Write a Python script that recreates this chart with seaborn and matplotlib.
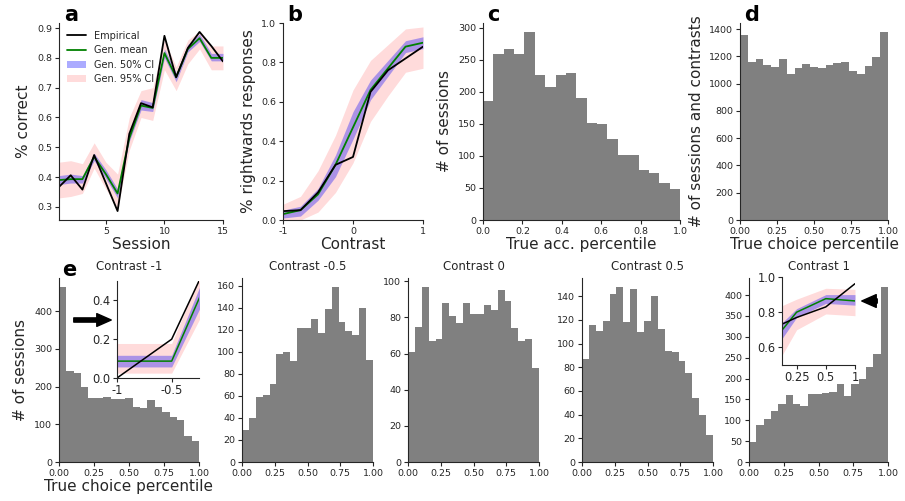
import numpy as np
import pandas as pd
import matplotlib
matplotlib.use("Agg")
import matplotlib.pyplot as plt
import seaborn as sns

# ---------------- data ----------------
# Panel a: accuracy per session
sessions = list(range(1, 16))
acc_emp = [0.367, 0.406, 0.358, 0.474, 0.38, 0.286, 0.545, 0.648, 0.634, 0.874, 0.735, 0.833, 0.887, 0.84, 0.788]
acc_mean = [0.39, 0.393, 0.393, 0.468, 0.41, 0.345, 0.53, 0.64, 0.632, 0.816, 0.735, 0.83, 0.866, 0.80, 0.80]
acc_50_lo = [0.375, 0.38, 0.38, 0.455, 0.395, 0.33, 0.52, 0.625, 0.62, 0.80, 0.72, 0.82, 0.855, 0.79, 0.79]
acc_50_hi = [0.405, 0.41, 0.405, 0.48, 0.425, 0.36, 0.545, 0.66, 0.65, 0.83, 0.75, 0.845, 0.88, 0.815, 0.815]
acc_95_lo = [0.33, 0.335, 0.345, 0.43, 0.36, 0.295, 0.49, 0.60, 0.59, 0.76, 0.69, 0.78, 0.83, 0.76, 0.76]
acc_95_hi = [0.45, 0.455, 0.445, 0.515, 0.45, 0.41, 0.60, 0.69, 0.70, 0.86, 0.77, 0.86, 0.89, 0.84, 0.84]

# Panel b: psychometric curve
contrasts = [-1, -0.75, -0.5, -0.25, 0, 0.25, 0.5, 0.75, 1]
pr_emp = [0.045, 0.05, 0.14, 0.28, 0.32, 0.65, 0.76, 0.82, 0.88]
pr_mean = [0.03, 0.05, 0.13, 0.28, 0.47, 0.66, 0.77, 0.88, 0.90]
pr_50_lo = [0.01, 0.02, 0.10, 0.22, 0.41, 0.61, 0.73, 0.85, 0.87]
pr_50_hi = [0.05, 0.07, 0.16, 0.33, 0.55, 0.71, 0.81, 0.91, 0.93]
pr_95_lo = [0.0, 0.0, 0.04, 0.14, 0.29, 0.50, 0.63, 0.75, 0.77]
pr_95_hi = [0.08, 0.12, 0.25, 0.43, 0.66, 0.81, 0.89, 0.97, 0.98]

# Histograms (19 bins over 0..1)
n_bins = 19
c_counts = [186, 260, 267, 260, 293, 226, 207, 226, 229, 190, 151, 150, 127, 101, 102, 78, 73, 58, 48]
d_counts = [1359, 1160, 1182, 1136, 1124, 1182, 1073, 1112, 1141, 1121, 1114, 1136, 1148, 1160, 1092, 1073, 1129, 1194, 1376]
e_titles = ["Contrast -1", "Contrast -0.5", "Contrast 0", "Contrast 0.5", "Contrast 1"]
e_counts = [
    [465, 242, 235, 200, 171, 171, 173, 167, 168, 170, 145, 143, 165, 147, 133, 120, 112, 70, 56],
    [29, 40, 59, 61, 71, 98, 100, 92, 122, 122, 130, 117, 139, 159, 127, 119, 115, 140, 93],
    [61, 75, 97, 67, 68, 88, 81, 77, 88, 82, 82, 87, 84, 95, 89, 74, 67, 68, 52],
    [87, 116, 111, 119, 142, 148, 118, 146, 110, 119, 140, 112, 94, 93, 85, 75, 54, 40, 23],
    [48, 89, 103, 123, 139, 160, 140, 134, 163, 163, 165, 167, 188, 159, 186, 198, 227, 260, 420],
]
e_yticks = [np.arange(0, 401, 100), np.arange(0, 161, 20), np.arange(0, 101, 20),
            np.arange(0, 141, 20), np.arange(0, 401, 50)]

# Inset e (contrast -1 side)
in1_labels = ["-1", "-0.5", "-0.25"]
in1_emp = [0.0, 0.2, 0.8]
in1_mean = [0.087, 0.087, 0.73]
in1_50_lo = [0.057, 0.057, 0.643]
in1_50_hi = [0.117, 0.117, 0.805]
in1_95_lo = [0.025, 0.025, 0.57]
in1_95_hi = [0.178, 0.178, 0.86]

# Inset e (contrast 1 side)
in5_labels = ["0", "0.25", "0.5", "1"]
in5_emp = [0.694, 0.77, 0.83, 0.962]
in5_mean = [0.596, 0.80, 0.877, 0.864]
in5_50_lo = [0.53, 0.77, 0.85, 0.84]
in5_50_hi = [0.66, 0.82, 0.90, 0.90]
in5_95_lo = [0.41, 0.70, 0.79, 0.78]
in5_95_hi = [0.80, 0.874, 0.936, 0.93]

# ---------------- style ----------------
sns.set_style("ticks")
plt.rcParams["font.family"] = ["DejaVu Sans"]

W, H = 905, 501
fig = plt.figure(figsize=(W / 100, H / 100), dpi=100)


def add_ax(left, right, top, bottom):
    return fig.add_axes([left / W, 1 - bottom / H, (right - left) / W, (bottom - top) / H])


PINK = (1.0, 0.0, 0.0, 0.14)
BLUE = (0.0, 0.0, 1.0, 0.33)
GREEN = "green"
TICK_FS = 6.8
LABEL_FS = 11


def bands(ax, x, lo95, hi95, lo50, hi50, mean, emp, lw=1.3, legend=False):
    if legend:
        ax.fill_between(x, lo95, hi95, color=PINK, linewidth=0, label="Gen. 95% CI")
        ax.fill_between(x, lo50, hi50, color=BLUE, linewidth=0, label="Gen. 50% CI")
        sns.lineplot(x=x, y=mean, color=GREEN, lw=lw, ax=ax, label="Gen. mean", sort=False)
        sns.lineplot(x=x, y=emp, color="black", lw=lw, ax=ax, label="Empirical", sort=False)
    else:
        ax.fill_between(x, lo95, hi95, color=PINK, linewidth=0)
        ax.fill_between(x, lo50, hi50, color=BLUE, linewidth=0)
        sns.lineplot(x=x, y=mean, color=GREEN, lw=lw, ax=ax, sort=False)
        sns.lineplot(x=x, y=emp, color="black", lw=lw, ax=ax, sort=False)
        if ax.get_legend() is not None:
            ax.get_legend().remove()


# Panel a
ax_a = add_ax(59, 223, 23, 220)
bands(ax_a, sessions, acc_95_lo, acc_95_hi, acc_50_lo, acc_50_hi, acc_mean, acc_emp, legend=True)
ax_a.set_xlim(1, 15)
ax_a.set_ylim(0.256, 0.917)
ax_a.set_xticks([5, 10, 15])
ax_a.set_yticks([0.3, 0.4, 0.5, 0.6, 0.7, 0.8, 0.9])
ax_a.set_xlabel("Session", fontsize=LABEL_FS, labelpad=1)
ax_a.set_ylabel("% correct", fontsize=LABEL_FS)
h, l = ax_a.get_legend_handles_labels()
order = [l.index(n) for n in ["Empirical", "Gen. mean", "Gen. 50% CI", "Gen. 95% CI"]]
ax_a.legend([h[i] for i in order], [l[i] for i in order], loc="upper left", frameon=False,
            fontsize=7, handlelength=2.0, labelspacing=0.45, borderaxespad=0.4)

# Panel b
ax_b = add_ax(283, 423, 23, 220)
bands(ax_b, contrasts, pr_95_lo, pr_95_hi, pr_50_lo, pr_50_hi, pr_mean, pr_emp)
ax_b.set_xlim(-1, 1)
ax_b.set_ylim(0, 1)
ax_b.set_xticks([-1, 0, 1])
ax_b.set_xticklabels(["-1", "0", "1"])
ax_b.set_yticks([0, 0.2, 0.4, 0.6, 0.8, 1.0])
ax_b.set_xlabel("Contrast", fontsize=LABEL_FS, labelpad=1)
ax_b.set_ylabel("% rightwards responses", fontsize=LABEL_FS)

bin_w = 1.0 / n_bins
centers = (np.arange(n_bins) + 0.5) * bin_w


def hist(ax, counts):
    df = pd.DataFrame({"pct": centers, "n": np.asarray(counts, dtype=float)})
    sns.histplot(data=df, x="pct", weights="n", binwidth=bin_w, binrange=(0, 1),
                 color="grey", alpha=1, linewidth=0, ax=ax)
    ax.set_xlim(0, 1)


# Panel c
ax_c = add_ax(483, 680, 23, 220)
hist(ax_c, c_counts)
ax_c.set_xticks([0, 0.2, 0.4, 0.6, 0.8, 1.0])
ax_c.set_yticks(np.arange(0, 301, 50))
ax_c.set_xlabel("True acc. percentile", fontsize=LABEL_FS, labelpad=1)
ax_c.set_ylabel("# of sessions", fontsize=LABEL_FS)

# Panel d
ax_d = add_ax(740, 888, 23, 220)
hist(ax_d, d_counts)
ax_d.set_xticks([0, 0.25, 0.5, 0.75, 1.0])
ax_d.set_yticks(np.arange(0, 1401, 200))
ax_d.set_xlabel("True choice percentile", fontsize=LABEL_FS, labelpad=1)
ax_d.set_ylabel("# of sessions and contrasts", fontsize=LABEL_FS)

# Panel e
e_pos = [(59, 199), (242, 373), (408, 539), (582, 713), (749, 888)]
e_axes = []
for (lft, rgt), cnt, ttl, yt in zip(e_pos, e_counts, e_titles, e_yticks):
    ax = add_ax(lft, rgt, 278, 462)
    hist(ax, cnt)
    ax.set_xticks([0, 0.25, 0.5, 0.75, 1.0])
    ax.set_yticks(yt)
    ax.set_title(ttl, fontsize=8.5)
    ax.set_xlabel("")
    ax.set_ylabel("")
    e_axes.append(ax)
e_axes[0].set_xlabel("True choice percentile", fontsize=LABEL_FS, labelpad=1)
e_axes[0].set_ylabel("# of sessions", fontsize=LABEL_FS)

for ax in [ax_a, ax_b, ax_c, ax_d] + e_axes:
    sns.despine(ax=ax)
    ax.tick_params(labelsize=TICK_FS, length=3, width=0.8, pad=2)

# Insets
in1 = add_ax(117, 199, 281, 378)
x1 = list(range(len(in1_labels)))
bands(in1, x1, in1_95_lo, in1_95_hi, in1_50_lo, in1_50_hi, in1_mean, in1_emp, lw=1.1)
in1.set_xlim(0, 1.5)
in1.set_ylim(0, 0.5)
in1.set_xticks([0, 1])
in1.set_xticklabels(in1_labels[:2])
in1.set_yticks([0, 0.2, 0.4])

in5 = add_ax(782, 855, 277, 365)
x5 = list(range(len(in5_labels)))
bands(in5, x5, in5_95_lo, in5_95_hi, in5_50_lo, in5_50_hi, in5_mean, in5_emp, lw=1.1)
in5.set_xlim(0.5, 3)
in5.set_ylim(0.5, 1.0)
in5.set_xticks([1, 2, 3])
in5.set_xticklabels(in5_labels[1:])
in5.set_yticks([0.6, 0.8, 1.0])

for ax in [in1, in5]:
    sns.despine(ax=ax)
    ax.tick_params(labelsize=8.3, length=3, width=0.8, pad=1.5)
    ax.set_facecolor("white")

# Arrows
arrow_style = "simple,head_length=1.3,head_width=1.15,tail_width=0.38"
fig.add_artist(matplotlib.patches.FancyArrowPatch(
    (71, H - 320), (114, H - 320), transform=None, arrowstyle=arrow_style,
    mutation_scale=8, color="black"))
fig.add_artist(matplotlib.patches.FancyArrowPatch(
    (880, H - 301), (859, H - 301), transform=None, arrowstyle=arrow_style,
    mutation_scale=8, color="black"))

# Panel letters
for txt, x, y in [("a", 64, 21), ("b", 287, 21), ("c", 487, 21), ("d", 744, 21), ("e", 62, 276)]:
    fig.text(x / W, 1 - y / H, txt, fontsize=15, fontweight="bold", ha="left", va="baseline", color="black")

fig.savefig("out.png", dpi=100)
